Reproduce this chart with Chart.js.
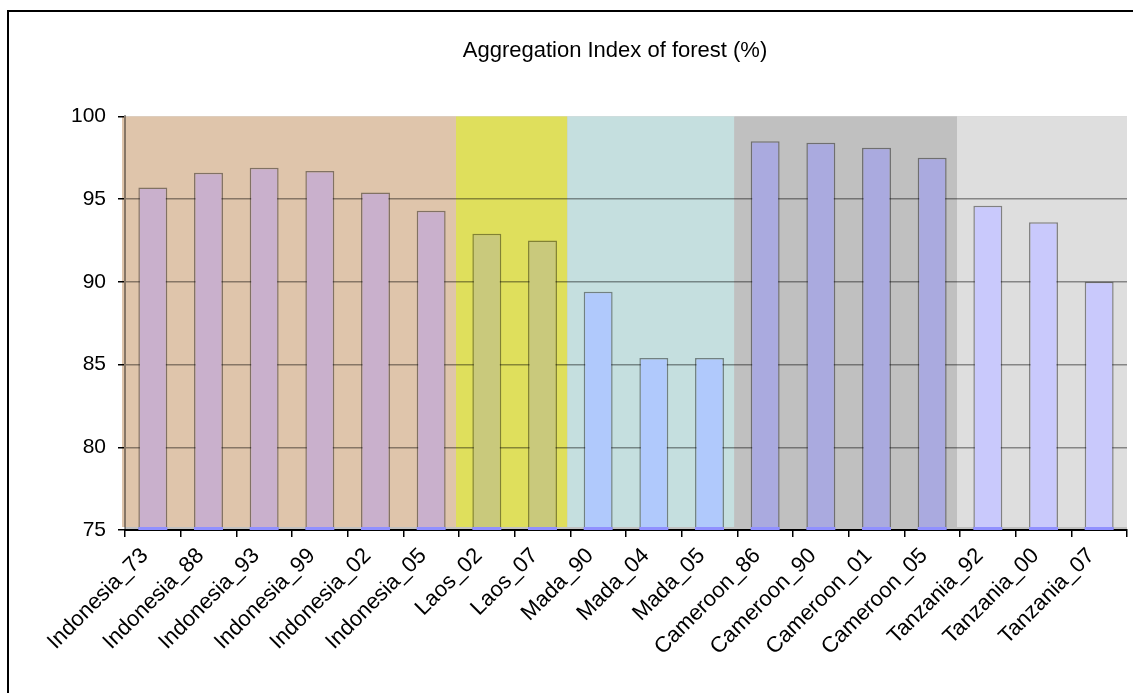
<!DOCTYPE html>
<html>
<head>
<meta charset="utf-8">
<script src="https://cdn.jsdelivr.net/npm/chart.js@4.4.1/dist/chart.umd.min.js"></script>
<style>
 body{margin:0;background:#fff;}
 #wrap{position:relative;width:1133px;height:693px;overflow:hidden;}
 #frame{position:absolute;left:7px;top:10px;width:1200px;height:800px;border:2px solid #000;pointer-events:none;}
</style>
</head>
<body>
<div id="wrap"><canvas id="myChart" width="1133" height="693"></canvas><div id="frame"></div></div>
<script>
 // data
 let categories = ['Indonesia_73','Indonesia_88','Indonesia_93','Indonesia_99','Indonesia_02','Indonesia_05',
     'Laos_02','Laos_07','Mada_90','Mada_04','Mada_05',
     'Cameroon_86','Cameroon_90','Cameroon_01','Cameroon_05',
     'Tanzania_92','Tanzania_00','Tanzania_07'];
 let values = [95.7,96.6,96.9,96.7,95.4,94.3, 92.9,92.5, 89.4,85.4,85.4, 98.5,98.4,98.1,97.5, 94.6,93.6,90.0];
 let groupNames = ['Indonesia','Laos','Mada','Cameroon','Tanzania'];
 let groupSizes = [6,2,3,4,3];
 let yTicks = [75,80,85,90,95,100];

 // styles
 let regionColors = ['#dfc5ab','#dfdf5c','#c5dfdf','#c0c0c0','#dedede'];
 let barColors = ['#c9b0cc','#c9c97c','#b0c9fc','#aaaadf','#c9c9fc'];
 let font = "'Liberation Sans', Arial, sans-serif";

 let colors = [];
 groupSizes.forEach((n,i)=>{ for(let k=0;k<n;k++) colors.push(barColors[i]); });

 const regions = {
     id:'regions',
     afterLayout(chart){
         // let the y tick labels run past the axis box so they are not clipped
         chart.scales.y.left = 0;
     },
     beforeDraw(chart){
         const {ctx, chartArea, scales} = chart;
         const x = scales.x, y = scales.y;
         ctx.save();
         ctx.fillStyle = '#c0c0c0';
         ctx.fillRect(chartArea.left, chartArea.top, chartArea.width, chartArea.height);
         let half = (x.getPixelForValue(1) - x.getPixelForValue(0))/2;
         let top = y.getPixelForValue(yTicks[yTicks.length-1]);
         let bottom = y.getPixelForValue(yTicks[0]) - 3;
         let start = 0;
         groupSizes.forEach((n,i)=>{
             let l = x.getPixelForValue(start) - half - 3;
             let r = x.getPixelForValue(start+n-1) + half - 3;
             if(i==groupSizes.length-1) r = chartArea.right;
             ctx.fillStyle = regionColors[i];
             ctx.fillRect(l, top, r-l, bottom-top);
             start += n;
         });
         ctx.restore();
     },
     afterDatasetsDraw(chart){
         const {ctx, scales} = chart;
         let base = scales.y.getPixelForValue(yTicks[0]);
         ctx.save();
         ctx.fillStyle = '#9090ff';
         chart.getDatasetMeta(0).data.forEach(b=>{
             ctx.fillRect(b.x - b.width/2, base-3, b.width, 3);
         });
         ctx.restore();
     }
 };

 const ctx = document.getElementById('myChart').getContext('2d');
 const myChart = new Chart(ctx, {
     type:'bar',
     data:{
         labels:categories,
         datasets:[{
             label:'Aggregation Index',
             data:values,
             backgroundColor:colors,
             borderColor:'rgba(0,0,0,0.42)',
             borderWidth:1.5,
             borderSkipped:false,
             barPercentage:0.52,
             categoryPercentage:1
         }]
     },
     options:{
         responsive:false,
         animation:false,
         layout:{padding:{left:103,right:6,top:0,bottom:0}},
         plugins:{
             legend:{display:false},
             tooltip:{enabled:false},
             title:{
                 display:true,
                 text:'Aggregation Index of forest (%)',
                 color:'#000',
                 font:{family:font,size:22,weight:'normal'},
                 padding:{top:38,bottom:52}
             }
         },
         scales:{
             x:{
                 afterFit(s){ s.height = 163; },
                 grid:{offset:true,drawOnChartArea:false,tickLength:7,tickColor:'#000',lineWidth:1.5},
                 border:{color:'#000',width:2},
                 ticks:{color:'#000',font:{family:font,size:22},maxRotation:45,minRotation:45,autoSkip:false,padding:6,labelOffset:-8}
             },
             y:{
                 min:75,max:100,
                 afterFit(s){ s.width = 22; },
                 afterBuildTicks(s){ s.ticks = yTicks.map(v=>({value:v})); },
                 grid:{
                     color(c){ return (c.tick.value==75||c.tick.value==100) ? 'rgba(0,0,0,0)' : 'rgba(0,0,0,0.4)'; },
                     lineWidth:1.5,tickLength:7,tickColor:'#000'
                 },
                 border:{color:'rgba(0,0,0,0.4)',width:2},
                 ticks:{color:'#000',font:{family:font,size:21},padding:12}
             }
         }
     },
     plugins:[regions]
 });
</script>
</body>
</html>
